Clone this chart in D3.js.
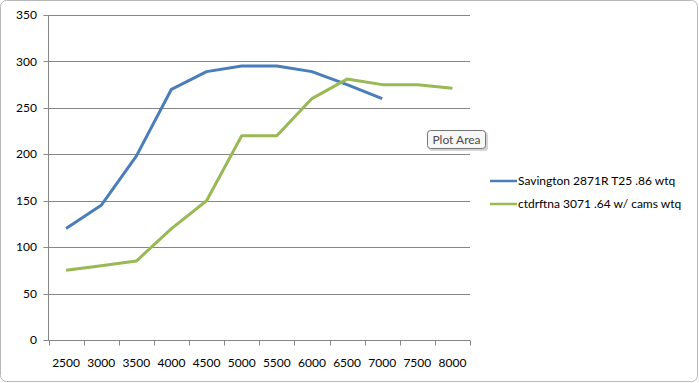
<!DOCTYPE html>
<html><head><meta charset="utf-8">
<script src="https://cdn.jsdelivr.net/npm/d3@7/dist/d3.min.js"></script>
<style>
html,body{margin:0;padding:0;background:#fff;}
svg{display:block;font-family:Lato, "Open Sans", sans-serif;}
</style></head>
<body>
<svg id="c" width="699" height="383"></svg>
<script>
const categories = ["2500","3000","3500","4000","4500","5000","5500","6000","6500","7000","7500","8000"];
const savington = [120,145,198,270,289,295,295,289,275,260,null,null];
const ctdrftna = [75,80,85,120,150,220,220,260,281,275,275,271];
const yTicks = [0,50,100,150,200,250,300,350];
const seriesNames = ["Savington 2871R T25 .86 wtq","ctdrftna 3071 .64 w/ cams wtq"];
const seriesColors = ["#4A7EBB","#98B954"];

const svg = d3.select("#c");
// chart border
svg.append("rect").attr("x",0.5).attr("y",0.5).attr("width",697).attr("height",381)
  .attr("rx",6).attr("fill","#fff").attr("stroke","#b8b8b8");

const L=48.5, R=470, T=15, B=340;
const x = d3.scaleBand().domain(categories).range([L,R]);
const y = d3.scaleLinear().domain([0,350]).range([B,T]);

// gridlines
svg.append("g").selectAll("line").data(yTicks).join("line")
  .attr("x1",L-5).attr("x2",R).attr("y1",d=>Math.round(y(d))+0.5).attr("y2",d=>Math.round(y(d))+0.5)
  .attr("stroke","#868686").attr("stroke-width",1);
// y labels
svg.append("g").selectAll("text").data(yTicks).join("text")
  .attr("x",37).attr("y",d=>y(d)).attr("dy","0.35em").attr("text-anchor","end")
  .attr("font-size",12).attr("fill","#000").text(d=>d);
// y axis line
svg.append("line").attr("x1",L).attr("x2",L).attr("y1",T).attr("y2",B+0.5).attr("stroke","#868686");
// x axis ticks
const xAxis = d3.axisBottom(x).tickSize(0).tickPadding(0);
const gx = svg.append("g").attr("transform",`translate(0,${Math.round(B)+0.5})`);
const bounds = categories.map(c=>x(c)).concat([R]);
gx.selectAll("line.tk").data(bounds).join("line").attr("class","tk")
  .attr("x1",d=>Math.round(d)+0.5).attr("x2",d=>Math.round(d)+0.5).attr("y1",0).attr("y2",5).attr("stroke","#868686");
gx.selectAll("text").data(categories).join("text")
  .attr("x",d=>x(d)+x.bandwidth()/2).attr("y",22).attr("dy","0.35em").attr("text-anchor","middle")
  .attr("font-size",12).attr("fill","#000").text(d=>d);

// lines
const line = d3.line().defined(d=>d.v!=null)
  .x(d=>x(d.c)+x.bandwidth()/2).y(d=>y(d.v));
[savington, ctdrftna].forEach((vals,i)=>{
  const data = categories.map((c,j)=>({c, v: vals[j]}));
  svg.append("path").datum(data).attr("d",line).attr("fill","none")
    .attr("stroke",seriesColors[i]).attr("stroke-width",3).attr("stroke-linejoin","round");
});

// legend
const lg = svg.append("g");
seriesNames.forEach((n,i)=>{
  const yy = 181 + i*23;
  lg.append("line").attr("x1",490).attr("x2",517).attr("y1",yy).attr("y2",yy)
    .attr("stroke",seriesColors[i]).attr("stroke-width",2.5);
  lg.append("text").attr("x",518).attr("y",yy).attr("dy","0.35em").attr("font-size",12)
    .attr("fill","#000").text(n);
});

// tooltip "Plot Area"
const tip = svg.append("g");
tip.append("rect").attr("x",429).attr("y",132).attr("width",59).attr("height",19).attr("rx",3)
  .attr("fill","#aaa").attr("opacity",0.5);
tip.append("rect").attr("x",427.5).attr("y",130.5).attr("width",58).attr("height",18).attr("rx",3)
  .attr("fill","#f7f7f7").attr("stroke","#767676");
tip.append("text").attr("x",456.5).attr("y",140).attr("dy","0.35em").attr("text-anchor","middle")
  .attr("font-size",12).attr("fill","#4c4c4c").text("Plot Area");
</script>
</body></html>
